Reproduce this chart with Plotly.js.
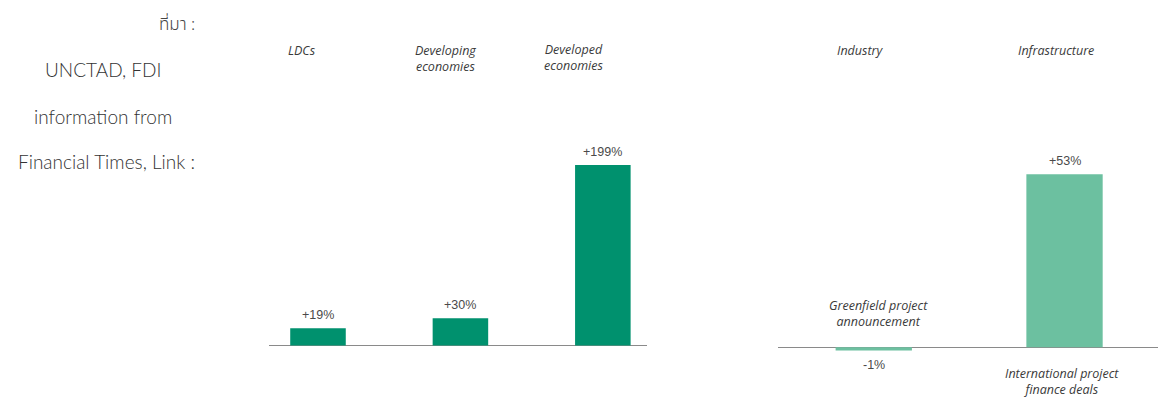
<!DOCTYPE html>
<html>
<head>
<meta charset="utf-8">
<script src="https://cdn.plot.ly/plotly-3.0.1.min.js"></script>
<style>html,body{margin:0;padding:0;background:#fff;}#chart{width:1158px;height:403px;}</style>
</head>
<body>
<div id="chart"></div>
<script>
// ---- data ----
const regions = ['LDCs', 'Developing economies', 'Developed economies'];
const regionChange = [19, 30, 199];
const regionLabels = ['+19%', '+30%', '+199%'];

const sectors = ['Greenfield project announcement', 'International project finance deals'];
const sectorChange = [-1, 53];
const sectorLabels = ['-1%', '+53%'];

const sectorGroups = ['Industry', 'Infrastructure'];
const sourceLines = ['ที่มา :', 'UNCTAD, FDI', 'information from', 'Financial Times, Link :'];

// ---- helpers: pixel -> paper ----
const W = 1158, H = 403;
const px = v => v / W;
const py = v => 1 - v / H;

const traces = [
  {
    type: 'bar', x: regions, y: regionChange, xaxis: 'x', yaxis: 'y',
    marker: {color: '#00916e'}, width: 0.39, hoverinfo: 'skip', showlegend: false
  },
  {
    type: 'bar', x: sectors, y: sectorChange, xaxis: 'x2', yaxis: 'y2',
    marker: {color: '#6cc0a0'}, width: 0.40, hoverinfo: 'skip', showlegend: false
  }
];

const headFont = {family: 'Open Sans, sans-serif', size: 12.5, color: '#3a3a3a', style: 'italic'};
const valFont = {family: 'Liberation Sans, Arial, sans-serif', size: 12.5, color: '#4a4a4a'};
const srcFont = {family: 'Lato, Noto Sans, sans-serif', size: 19, color: '#333', weight: 300};
const thaiFont = {family: 'Noto Sans Thai, Noto Sans Thai Looped, Loma, Lato, sans-serif', size: 17, color: '#444', weight: 300};

const annotations = [];

// value labels (data coordinates)
regions.forEach((r, i) => annotations.push({
  xref: 'x', yref: 'y', x: r, y: regionChange[i], text: regionLabels[i],
  showarrow: false, yanchor: 'bottom', yshift: 4, font: valFont
}));
sectors.forEach((s, i) => annotations.push({
  xref: 'x2', yref: 'y2', x: s, y: sectorChange[i], text: sectorLabels[i],
  showarrow: false, yanchor: sectorChange[i] >= 0 ? 'bottom' : 'top',
  yshift: sectorChange[i] >= 0 ? 4 : -5, font: valFont
}));

// headers left chart
const regionHeadPos = [[302, 50], [445, 59], [573, 57]];
const regionHeadText = ['LDCs', 'Developing<br>economies', 'Developed<br>economies'];
regionHeadText.forEach((t, i) => annotations.push({
  xref: 'paper', yref: 'paper', x: px(regionHeadPos[i][0]), y: py(regionHeadPos[i][1]),
  text: t, showarrow: false, xanchor: 'center', yanchor: 'middle', font: headFont
}));

// headers right chart
const sectorHeadPos = [[860, 51], [1056, 51]];
sectorGroups.forEach((t, i) => annotations.push({
  xref: 'paper', yref: 'paper', x: px(sectorHeadPos[i][0]), y: py(sectorHeadPos[i][1]),
  text: t, showarrow: false, xanchor: 'center', yanchor: 'middle', font: headFont
}));

// sector labels
annotations.push({
  xref: 'paper', yref: 'paper', x: px(878), y: py(313),
  text: 'Greenfield project<br>announcement', showarrow: false, xanchor: 'center', yanchor: 'middle', font: headFont
});
annotations.push({
  xref: 'paper', yref: 'paper', x: px(1062), y: py(381),
  text: 'International project<br>finance deals', showarrow: false, xanchor: 'center', yanchor: 'middle', font: headFont
});

// source text
const srcPos = [[197, 25, 'right'], [103, 70, 'center'], [103, 116, 'center'], [197, 161, 'right']];
sourceLines.forEach((t, i) => annotations.push({
  xref: 'paper', yref: 'paper', x: px(srcPos[i][0]), y: py(srcPos[i][1]),
  text: t, showarrow: false, xanchor: srcPos[i][2], yanchor: 'middle', font: i === 0 ? thaiFont : srcFont
}));

const hidden = {showgrid: false, showticklabels: false, showline: false, ticks: '', zeroline: false, fixedrange: true};

const layout = {
  width: W, height: H,
  margin: {l: 0, r: 0, t: 0, b: 0, pad: 0},
  paper_bgcolor: '#fff', plot_bgcolor: 'rgba(0,0,0,0)',
  showlegend: false,
  xaxis: Object.assign({}, hidden, {domain: [px(269), px(647)], range: [-0.344, 2.31], type: 'category'}),
  yaxis: Object.assign({}, hidden, {domain: [0, 1], range: [-63.3, 381], anchor: 'x',
    zeroline: true, zerolinecolor: '#8a8a8a', zerolinewidth: 1}),
  xaxis2: Object.assign({}, hidden, {domain: [px(778), 1], range: [-0.502, 1.49], type: 'category', anchor: 'y2'}),
  yaxis2: Object.assign({}, hidden, {domain: [0, 1], range: [-17.06, 106.4], anchor: 'x2',
    zeroline: true, zerolinecolor: '#8a8a8a', zerolinewidth: 1}),
  annotations: annotations
};

Plotly.newPlot('chart', traces, layout, {displayModeBar: false, staticPlot: true});
</script>
</body>
</html>
